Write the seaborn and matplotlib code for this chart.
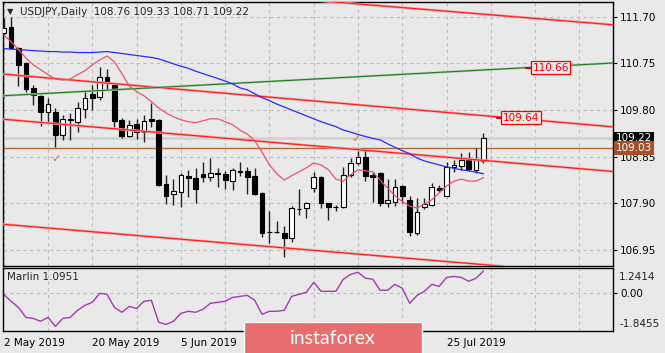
import matplotlib
matplotlib.use('Agg')
import matplotlib.pyplot as plt
from matplotlib.patches import Rectangle
import seaborn as sns
import numpy as np

# USDJPY 일봉 (2019-05-02 부터)
opens = [111.37, 111.50, 111.07, 110.76, 110.25, 110.09, 109.76, 109.76, 109.29, 109.61,
         109.56, 109.82, 110.13, 110.07, 110.48, 110.31, 109.60, 109.27, 109.52, 109.35,
         109.62, 109.60, 108.29, 108.09, 108.13, 108.46, 108.41, 108.50, 108.43, 108.52,
         108.50, 108.35, 108.55, 108.56, 108.46, 108.11, 107.31, 107.32, 107.29, 107.19,
         107.78, 107.80, 108.21, 108.43, 107.90, 107.82, 107.82, 108.48, 108.72, 108.84,
         108.48, 108.52, 107.90, 107.92, 108.25, 107.97, 107.29, 107.82, 107.86, 108.21,
         108.05, 108.64, 108.66, 108.78, 108.58, 108.76]
highs = [111.68, 111.70, 111.08, 110.78, 110.31, 110.11, 110.05, 109.84, 109.70, 109.74,
         109.97, 110.21, 110.31, 110.68, 110.64, 110.35, 109.64, 109.60, 109.62, 109.70,
         109.94, 109.62, 108.48, 108.39, 108.52, 108.58, 108.62, 108.74, 108.82, 108.62,
         108.56, 108.62, 108.74, 108.64, 108.62, 108.12, 107.74, 107.54, 107.43, 107.84,
         108.19, 107.92, 108.54, 108.46, 107.91, 107.86, 108.64, 108.82, 108.97, 109.01,
         108.54, 108.54, 108.39, 108.39, 108.27, 108.05, 108.01, 108.01, 108.31, 108.27,
         108.74, 108.78, 108.92, 108.94, 109.03, 109.33]
lows = [111.33, 111.04, 110.29, 110.17, 109.90, 109.48, 109.54, 109.05, 109.19, 109.19,
        109.35, 109.64, 109.80, 110.01, 110.21, 109.46, 109.23, 109.25, 109.21, 109.15,
        109.46, 108.25, 107.88, 107.86, 107.82, 108.03, 107.90, 108.33, 108.35, 108.23,
        108.19, 108.17, 108.46, 108.09, 108.07, 107.21, 107.09, 107.29, 106.80, 107.11,
        107.66, 107.60, 108.13, 107.80, 107.56, 107.74, 107.80, 108.43, 108.68, 108.35,
        107.92, 107.84, 107.82, 107.84, 107.90, 107.23, 107.25, 107.78, 107.84, 108.13,
        108.03, 108.54, 108.58, 108.56, 108.52, 108.71]
closes = [111.48, 111.07, 110.72, 110.23, 110.11, 109.76, 109.92, 109.29, 109.62, 109.60,
          109.84, 110.05, 110.05, 110.48, 110.35, 109.58, 109.27, 109.50, 109.35, 109.58,
          109.58, 108.27, 108.05, 108.15, 108.48, 108.41, 108.19, 108.43, 108.52, 108.50,
          108.37, 108.58, 108.54, 108.43, 108.09, 107.29, 107.31, 107.31, 107.19, 107.80,
          107.78, 107.90, 108.43, 107.90, 107.82, 107.83, 108.48, 108.72, 108.84, 108.46,
          108.43, 107.90, 107.97, 108.23, 108.05, 107.31, 107.72, 107.88, 108.23, 108.17,
          108.64, 108.68, 108.78, 108.60, 108.78, 109.22]

# 이동평균 (파랑 = 느린선, 분홍 = 빠른선)
ma_slow = [111.05, 111.04, 111.03, 111.02, 111.01, 111.00, 110.99, 110.99, 110.98, 110.98,
           110.97, 110.97, 110.97, 110.98, 110.99, 110.97, 110.95, 110.93, 110.91, 110.89,
           110.87, 110.84, 110.79, 110.74, 110.69, 110.65, 110.59, 110.54, 110.49, 110.44,
           110.39, 110.33, 110.25, 110.21, 110.13, 110.05, 109.99, 109.92, 109.86, 109.80,
           109.74, 109.68, 109.62, 109.56, 109.51, 109.46, 109.39, 109.35, 109.30, 109.26,
           109.22, 109.19, 109.11, 109.04, 108.97, 108.91, 108.82, 108.76, 108.72, 108.68,
           108.64, 108.61, 108.58, 108.56, 108.53, 108.50]
ma_fast = [111.33, 111.19, 111.03, 110.86, 110.72, 110.62, 110.52, 110.43, 110.41, 110.43,
           110.52, 110.60, 110.72, 110.82, 110.90, 110.78, 110.54, 110.29, 110.17, 110.09,
           109.97, 109.84, 109.74, 109.66, 109.60, 109.56, 109.54, 109.58, 109.62, 109.62,
           109.56, 109.50, 109.39, 109.31, 109.17, 108.94, 108.68, 108.50, 108.37, 108.46,
           108.54, 108.62, 108.72, 108.68, 108.58, 108.39, 108.35, 108.48, 108.58, 108.56,
           108.54, 108.37, 108.21, 108.05, 107.93, 107.84, 107.80, 107.88, 107.97, 108.11,
           108.25, 108.35, 108.39, 108.35, 108.35, 108.42]

# Marlin 오실레이터
marlin = [-0.05, -0.39, -0.69, -1.18, -1.23, -1.37, -1.18, -1.62, -1.23, -1.18,
          -0.83, -0.59, -0.44, 0.00, -0.05, -0.69, -0.93, -0.64, -0.74, -0.39,
          -0.34, -1.42, -1.52, -1.37, -0.98, -0.88, -0.93, -0.78, -0.49, -0.44,
          -0.39, -0.20, -0.15, -0.10, -0.34, -1.03, -0.88, -0.88, -0.83, -0.15,
          -0.05, 0.05, 0.54, 0.10, 0.10, 0.10, 0.69, 0.93, 1.03, 0.74,
          0.69, 0.15, 0.15, 0.44, 0.25, -0.49, -0.10, 0.10, 0.44, 0.34,
          0.78, 0.83, 0.78, 0.59, 0.74, 1.0951]
marlin_range = [-1.8455, 1.2414]

# 추세선: 봉 번호 0 과 83 에서의 가격
line_bars = [0, 83]
red_top = [112.55, 111.53]
red_upper = [110.53, 109.45]
red_lower = [109.61, 108.54]
red_bottom = [107.47, 106.42]
green_line = [110.09, 110.76]

# 가격 라벨 객체
label_prices = [110.66, 109.64]
label_bars = [74.1, 70.1]
check_bars = [7.05, 47.7]
check_prices = [108.81, 109.21]

last_price = 109.22
level_price = 109.03
price_ticks = [106.95, 107.90, 108.85, 109.80, 110.75, 111.70]
# 21 Jun, 9 Jul 라벨은 워터마크에 가려져 보이지 않음
date_bars = [0, 12, 24, 36, 48, 60]
date_labels = ['2 May 2019', '20 May 2019', '5 Jun 2019', '', '', '25 Jul 2019']

bg = '#e9e9e9'
sns.set_theme(style='white', rc={'axes.facecolor': bg, 'figure.facecolor': bg})
plt.rcParams['font.family'] = ['DejaVu Sans']

W, H = 665, 353
fig = plt.figure(figsize=(W / 100, H / 100), dpi=100)
ax = fig.add_axes([3 / W, 1 - 266 / H, 610 / W, 264 / H])
ax2 = fig.add_axes([3 / W, 1 - 331 / H, 610 / W, 63 / H])

bars = np.arange(len(opens))
o = np.array(opens); c = np.array(closes)
up = c >= o

xlim = (-0.1, 82.55)
grid_kw = dict(color='#bdbdbd', linestyle=(0, (3, 3)), linewidth=0.8)

# 캔들
ax.vlines(bars, lows, highs, color='#222222', linewidth=1, zorder=3)
ax.bar(bars, np.abs(c - o), bottom=np.minimum(o, c), width=0.64,
       color=np.where(up, 'white', 'black'), edgecolor='black', linewidth=0.8, zorder=4)

# 수평선
ax.axhline(last_price, color='#d2d2d2', linewidth=2, zorder=1)
ax.axhline(level_price, color='#b3683a', linewidth=1, zorder=2)

# 추세선 (빨강 이중선 효과)
for vals in [red_top, red_upper, red_lower, red_bottom]:
    ax.plot(line_bars, vals, color='#f4a0a0', linewidth=1.8, zorder=5)
    ax.plot(line_bars, vals, color='#ff1a1a', linewidth=0.8, zorder=5)
ax.plot(line_bars, green_line, color='#a9cfa9', linewidth=1.6, zorder=5)
ax.plot(line_bars, green_line, color='#237a23', linewidth=0.8, zorder=5)

# 이동평균
sns.lineplot(x=bars, y=ma_slow, ax=ax, color='#2a2aff', linewidth=0.9, zorder=6)
sns.lineplot(x=bars, y=ma_fast, ax=ax, color='#e8566f', linewidth=0.9, zorder=6)

# 가격 라벨
for b, p in zip(label_bars, label_prices):
    ax.plot([b - 3.3, b - 2.45], [p, p], color='#c00000', linewidth=1.5, zorder=7)
    ax.text(b, p, f'{p:.2f}', color='red', fontsize=7.5, ha='center', va='center', zorder=8,
            bbox=dict(boxstyle='square,pad=0.15', fc=bg, ec='red', lw=0.9))
for b, p in zip(check_bars, check_prices):
    ax.text(b, p, '\u2713', color='#c8783c', fontsize=8, ha='center', va='center', zorder=8)

ax.set_xlim(*xlim)
ax.set_ylim(106.62, 112.0)
ax.set_xticks(np.arange(0, 83, 6))
ax.set_xticklabels([])
ax.tick_params(axis='x', length=0)
ax.yaxis.tick_right()
ax.set_yticks(price_ticks)
ax.set_yticklabels([f'{v:.2f}' for v in price_ticks])
ax.tick_params(axis='y', length=3, width=0.8, pad=2, labelsize=7.5, colors='black')
ax.grid(True, **grid_kw)
ax.set_ylabel('')

ytr = ax.get_yaxis_transform()
ax.text(1.004, last_price, f'{last_price:.2f}', transform=ytr, color='white', fontsize=7.5,
        va='center', ha='left', zorder=10, clip_on=False,
        bbox=dict(boxstyle='square,pad=0.18', fc='black', ec='none'))
ax.text(1.004, level_price, f'{level_price:.2f}', transform=ytr, color='white', fontsize=7.5,
        va='center', ha='left', zorder=10, clip_on=False,
        bbox=dict(boxstyle='square,pad=0.18', fc='#a0522d', ec='none'))

# Marlin 패널
sns.lineplot(x=bars, y=marlin, ax=ax2, color='#a23cae', linewidth=1.0)
ax2.set_xlim(*xlim)
ax2.set_ylim(*marlin_range)
ax2.set_xticks(np.arange(0, 83, 6), minor=True)
ax2.set_xticks(date_bars)
ax2.set_xticklabels(date_labels, ha='left', fontsize=7.5)
ax2.tick_params(axis='x', which='major', length=3, width=0.8, pad=2, colors='black')
ax2.tick_params(axis='x', which='minor', length=0)
ax2.yaxis.tick_right()
ax2.set_yticks([0])
ax2.set_yticklabels(['0.00'])
ax2.tick_params(axis='y', length=3, width=0.8, pad=2, labelsize=7.5, colors='black')
ax2.grid(True, which='minor', axis='x', **grid_kw)
ax2.grid(True, which='major', axis='y', **grid_kw)
ax2.set_ylabel('')
ax2.text(0.007, 0.86, 'Marlin 1.0951', transform=ax2.transAxes, fontsize=7.5, va='center')

for a in (ax, ax2):
    for s in a.spines.values():
        s.set_color('black')
        s.set_linewidth(1)

fig.text(619 / W, 1 - 277 / H, '1.2414', fontsize=7.5, va='center')
fig.text(619 / W, 1 - 324 / H, '-1.8455', fontsize=7.5, va='center')

# 헤더
fig.text(7 / W, 1 - 12 / H, '\u25bc', fontsize=6, va='center')
fig.text(20 / W, 1 - 12 / H, 'USDJPY,Daily  108.76 109.33 108.71 109.22', fontsize=7.5, va='center')

# 워터마크
fig.add_artist(Rectangle((244 / W, -0.01), 178 / W, 1 - 322 / H + 0.01, transform=fig.transFigure,
                         facecolor='#e66e6e', edgecolor='white', linewidth=1, zorder=20))
fig.text(333 / W, 1 - 338 / H, 'instaforex', color='white', fontsize=14, family=['Lato', 'DejaVu Sans'],
         ha='center', va='center', zorder=21)

fig.savefig('out.png', dpi=100, facecolor=bg)
